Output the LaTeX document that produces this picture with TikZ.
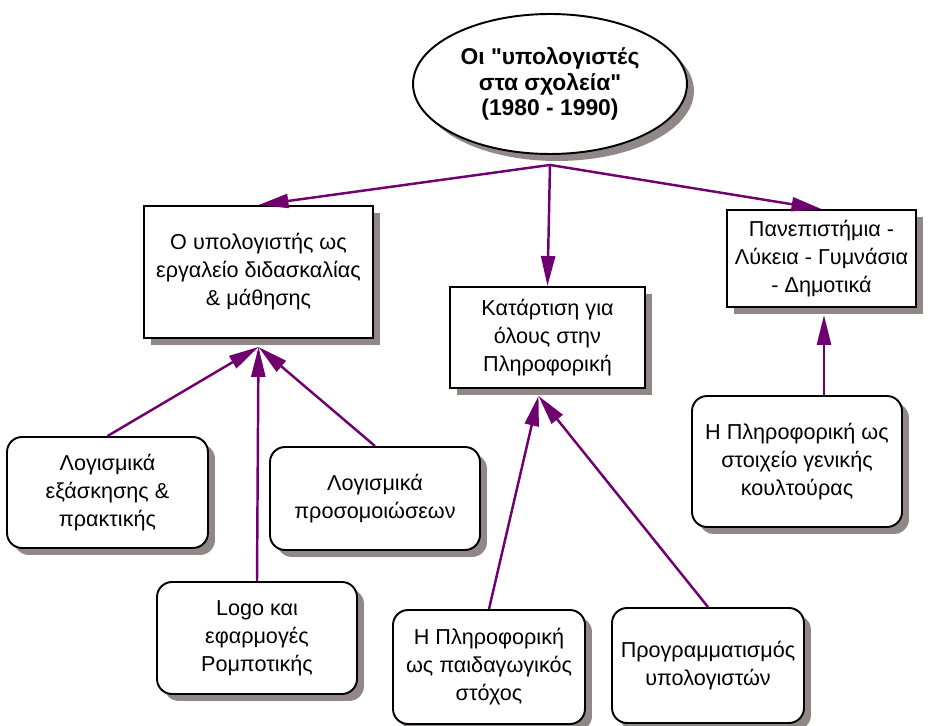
\documentclass[tikz,border=0pt]{standalone}
\usepackage{fontspec}
\setmainfont{Liberation Sans}[Ligatures=TeXOff]
\usetikzlibrary{shapes,shadows,arrows.meta}
\definecolor{linkpurple}{RGB}{112,0,112}
\definecolor{shadowgray}{RGB}{145,135,135}
\tikzset{
  dropshade/.style={drop shadow={shadow xshift=0.14cm,shadow yshift=-0.14cm,fill=shadowgray,opacity=1}},
  mainnode/.style={ellipse,draw,line width=1.1pt,fill=white,dropshade,minimum width=5.48cm,minimum height=2.8cm,align=center,inner sep=0pt,font=\fontsize{13}{14.6}\selectfont\bfseries},
  subbox/.style={rectangle,draw,line width=1.1pt,fill=white,dropshade,align=center,inner sep=0pt,font=\fontsize{12.3}{15.9}\selectfont},
  leafbox/.style={subbox,rounded corners=0.3cm},
  link/.style={draw=linkpurple,line width=1.4pt,-{Triangle[length=0.6cm,width=0.28cm]}}
}

\begin{document}
\begin{tikzpicture}[x=0.02cm,y=-0.02cm]
        \useasboundingbox (0,0) rectangle (938,726);

        % top
        \node[mainnode] (schools) at (550,84) {Οι "υπολογιστές\\στα σχολεία"\\(1980 - 1990)};

        % row1
        \node[subbox,minimum width=4.58cm,minimum height=2.64cm] (tool) at (258.5,272) {Ο υπολογιστής ως\\εργαλείο διδασκαλίας\\\& μάθησης};
        \node[subbox,minimum width=3.9cm,minimum height=2.02cm] (training) at (547.5,337.5) {Κατάρτιση για\\όλους στην\\Πληροφορική};
        \node[subbox,minimum width=3.78cm,minimum height=1.94cm] (levels) at (821.5,258.5) {Πανεπιστήμια -\\Λύκεια - Γυμνάσια\\- Δημοτικά};

        % row2
        \node[leafbox,minimum width=4.02cm,minimum height=2.22cm] (drill) at (107.5,492.5) {Λογισμικά\\εξάσκησης \&\\πρακτικής};
        \node[leafbox,minimum width=4.2cm,minimum height=2.06cm] (sims) at (375,498.5) {Λογισμικά\\προσομοιώσεων};
        \node[leafbox,minimum width=4.2cm,minimum height=2.62cm] (culture) at (797,461.5) {Η Πληροφορική ως\\στοιχείο γενικής\\κουλτούρας};

        % row3
        \node[leafbox,minimum width=4.0cm,minimum height=2.24cm] (logo) at (257,638) {Logo και\\εφαρμογές\\Ρομποτικής};
        \node[leafbox,minimum width=3.84cm,minimum height=2.28cm] (goal) at (489,667) {Η Πληροφορική\\ως παιδαγωγικός\\στόχος};
        \node[leafbox,minimum width=3.84cm,minimum height=2.3cm] (coding) at (708,665.5) {Προγραμματισμός\\υπολογιστών};

        % meeting points
        \coordinate (hub) at ([yshift=-0.2cm]schools.south);
        \coordinate (toolin) at ([yshift=-0.16cm]tool.south);
        \coordinate (trainin) at ([xshift=-0.18cm,yshift=-0.14cm]training.south);
        \coordinate (levelsin) at ([xshift=0.05cm,yshift=-0.14cm]levels.south);

        % links
        \draw[link] (hub) -- (tool.north);
        \draw[link] (hub) -- (training.north);
        \draw[link] (hub) -- (levels.north);
        \draw[link] (drill.north) -- (toolin);
        \draw[link] (sims.north) -- (toolin);
        \draw[link] (logo.north) -- (toolin);
        \draw[link] (goal.north) -- (trainin);
        \draw[link] (coding.north) -- (trainin);
        \draw[link] (culture.north -| levelsin) -- (levelsin);
\end{tikzpicture}
\end{document}
